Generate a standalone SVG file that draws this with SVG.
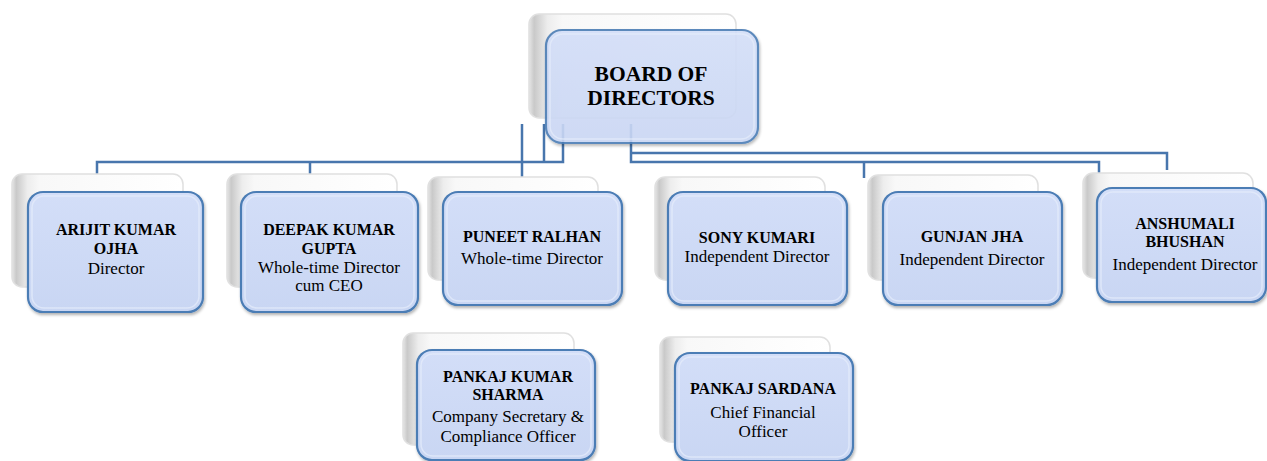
<svg xmlns="http://www.w3.org/2000/svg" width="1267" height="461" viewBox="0 0 1267 461">
<defs>
<linearGradient id="backGrad" x1="0" y1="0" x2="1" y2="0">
<stop offset="0" stop-color="#e6e6e6"/>
<stop offset="0.025" stop-color="#c9c9c9"/>
<stop offset="0.09" stop-color="#ededed"/>
<stop offset="0.16" stop-color="#f8f8f8"/>
<stop offset="1" stop-color="#ffffff"/>
</linearGradient>
<linearGradient id="frontGrad" x1="0" y1="0" x2="0" y2="1">
<stop offset="0" stop-color="#d3def8"/>
<stop offset="1" stop-color="#c9d6f3"/>
</linearGradient>
<filter id="shadow" x="-10%" y="-10%" width="125%" height="130%">
<feDropShadow dx="1" dy="2" stdDeviation="1.5" flood-color="#000" flood-opacity="0.3"/>
</filter>
</defs>
<style>
.back{fill:url(#backGrad);stroke:#e0e0e0;stroke-width:1.5}
.front{fill:url(#frontGrad);stroke:#4c7db5;stroke-width:2.2;filter:url(#shadow)}
.inner{fill:none;stroke:#e6ecfb;stroke-width:1.5;opacity:0.7}
.conn{fill:none;stroke:#4876ad;stroke-width:2.5}
text{font-family:"Liberation Serif","Times New Roman",serif;fill:#000;text-anchor:middle}
.b{font-weight:bold;font-size:16px}
.r{font-size:17px}
.t{font-weight:bold;font-size:21.5px}
</style>
<rect width="1267" height="461" fill="#ffffff"/>
<g id="connectors">
<polyline class="conn" points="97,178 97,162 563,162 563,124"/>
<polyline class="conn" points="310,162 310,176"/>
<polyline class="conn" points="544,124 544,162"/>
<polyline class="conn" points="522,124 522,178"/>
<polyline class="conn" points="631,124 631,162 1099,162 1099,173"/>
<polyline class="conn" points="631,153 1167,153 1167,170"/>
<polyline class="conn" points="864,162 864,178"/>
</g>
<g id="board">
<rect class="back" x="529" y="14" width="207" height="104" rx="10"/>
<rect class="front" x="546" y="30" width="212" height="113" rx="16" opacity="0.9"/>
<rect class="inner" x="550" y="34" width="204" height="105" rx="13"/>
<text class="t" x="651" y="80.5">BOARD OF</text>
<text class="t" x="651" y="105">DIRECTORS</text>
</g>
<g id="arijit">
<rect class="back" x="12" y="174" width="171" height="113" rx="10"/>
<rect class="front" x="28" y="192" width="175" height="120" rx="15"/>
<rect class="inner" x="32" y="196" width="167" height="112" rx="12"/>
<text class="b" x="116" y="235">ARIJIT KUMAR</text>
<text class="b" x="116" y="254">OJHA</text>
<text class="r" x="116" y="274">Director</text>
</g>
<g id="deepak">
<rect class="back" x="227" y="174" width="170" height="113" rx="10"/>
<rect class="front" x="241" y="192" width="177" height="120" rx="15"/>
<rect class="inner" x="245" y="196" width="169" height="112" rx="12"/>
<text class="b" x="329" y="235">DEEPAK KUMAR</text>
<text class="b" x="329" y="254">GUPTA</text>
<text class="r" x="329" y="273">Whole-time Director</text>
<text class="r" x="329" y="291">cum CEO</text>
</g>
<g id="puneet">
<rect class="back" x="428" y="177" width="170" height="103" rx="10"/>
<rect class="front" x="443" y="192" width="179" height="113" rx="15"/>
<rect class="inner" x="447" y="196" width="171" height="105" rx="12"/>
<text class="b" x="532" y="242">PUNEET RALHAN</text>
<text class="r" x="532" y="264">Whole-time Director</text>
</g>
<g id="sony">
<rect class="back" x="655" y="177" width="170" height="103" rx="10"/>
<rect class="front" x="668" y="192" width="179" height="113" rx="15"/>
<rect class="inner" x="672" y="196" width="171" height="105" rx="12"/>
<text class="b" x="757" y="243">SONY KUMARI</text>
<text class="r" x="757" y="262">Independent Director</text>
</g>
<g id="gunjan">
<rect class="back" x="868" y="175" width="170" height="105" rx="10"/>
<rect class="front" x="883" y="192" width="179" height="113" rx="15"/>
<rect class="inner" x="887" y="196" width="171" height="105" rx="12"/>
<text class="b" x="972" y="242">GUNJAN JHA</text>
<text class="r" x="972" y="265">Independent Director</text>
</g>
<g id="anshumali">
<rect class="back" x="1083" y="173" width="170" height="105" rx="10"/>
<rect class="front" x="1097" y="188" width="169" height="114" rx="15"/>
<rect class="inner" x="1101" y="192" width="161" height="106" rx="12"/>
<text class="b" x="1185" y="229">ANSHUMALI</text>
<text class="b" x="1185" y="247">BHUSHAN</text>
<text class="r" x="1185" y="270">Independent Director</text>
</g>
<g id="pankaj-kumar">
<rect class="back" x="403" y="333" width="171" height="112" rx="10"/>
<rect class="front" x="417" y="350" width="178" height="110" rx="15"/>
<rect class="inner" x="421" y="354" width="170" height="102" rx="12"/>
<text class="b" x="508" y="382">PANKAJ KUMAR</text>
<text class="b" x="508" y="400">SHARMA</text>
<text class="r" x="508" y="422">Company Secretary &amp;</text>
<text class="r" x="508" y="442">Compliance Officer</text>
</g>
<g id="pankaj-sardana">
<rect class="back" x="660" y="337" width="170" height="105" rx="10"/>
<rect class="front" x="675" y="353" width="178" height="108" rx="15"/>
<rect class="inner" x="679" y="357" width="170" height="100" rx="12"/>
<text class="b" x="763" y="394">PANKAJ SARDANA</text>
<text class="r" x="763" y="418">Chief Financial</text>
<text class="r" x="763" y="437">Officer</text>
</g>
</svg>
